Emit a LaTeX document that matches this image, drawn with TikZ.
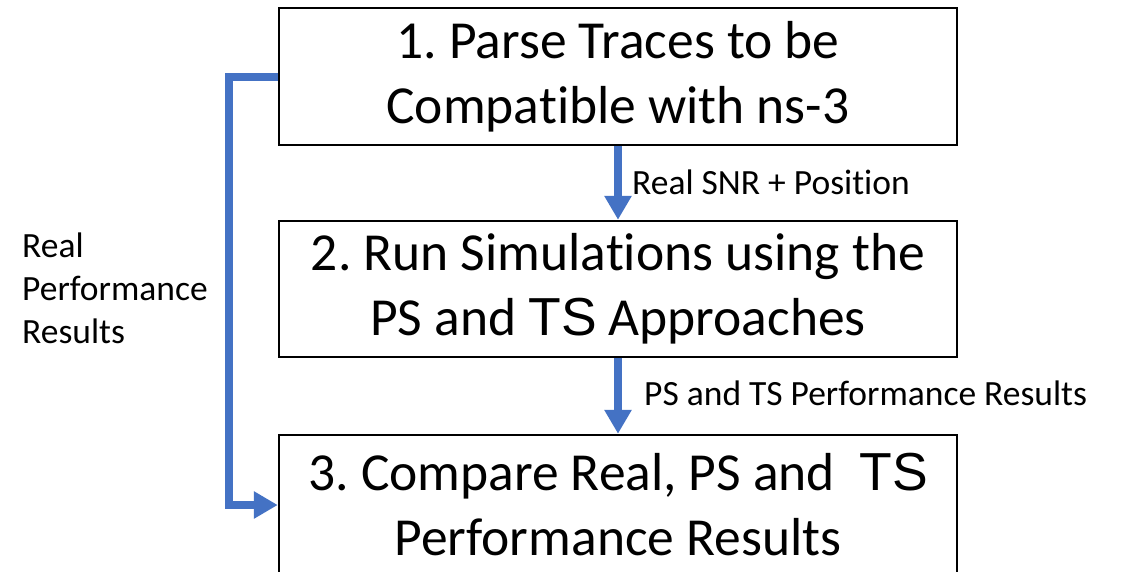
\documentclass[tikz,border=0pt]{standalone}
\usepackage{fontspec}
\setmainfont{Carlito}[Ligatures=NoCommon]
\newfontfamily\arialf{Liberation Sans}
\usetikzlibrary{arrows.meta}
\definecolor{flowblue}{RGB}{68,114,196}
\frenchspacing
\begin{document}
\begin{tikzpicture}[x=1pt,y=-1pt,
  stepbox/.style={draw=black, line width=2.5pt, minimum width=678pt, inner sep=0pt, align=center, font=\fontsize{53.5}{65}\selectfont},
  flow/.style={draw=flowblue, line width=8pt, -{Triangle[width=26pt,length=24pt]}},
  lbl/.style={font=\fontsize{35.5}{43}\selectfont, inner sep=0pt, anchor=west}]
\useasboundingbox (0,0) rectangle (1127,571);
\clip (0,0) rectangle (1127,571);
\fill[white] (0,0) rectangle (1127,571);
\node[stepbox, minimum height=137pt] (s1) at (618,76.5) {1. Parse Traces to be\\Compatible with ns-3};
\node[stepbox, minimum height=136pt] (s2) at (618,289) {2. Run Simulations using the\\PS and {\arialf TS} Approaches};
\node[stepbox, minimum height=140pt] (s3) at (618,505) {3. Compare Real, PS and \ {\arialf TS}\\Performance Results};
\coordinate (bend) at (229,0);
\draw[flow] (s1.south) -- (s2.north);
\draw[flow] (s2.south) -- (s3.north);
\draw[flow] (s1.west) -- (s1.west -| bend) -- (s3.west -| bend) -- (s3.west);
\node[lbl] (l1) at (632,182) {Real SNR + Position};
\node[lbl] (l2) at (644,393) {PS and TS Performance Results};
\node[lbl, align=left] (l3) at (22,288) {Real\\Performance\\Results};
\end{tikzpicture}
\end{document}
